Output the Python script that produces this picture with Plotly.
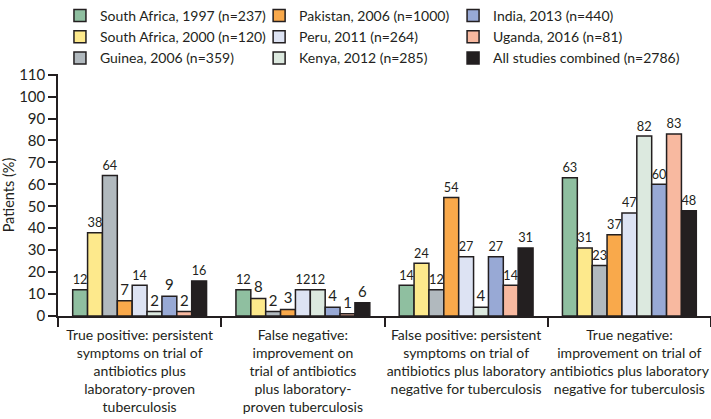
import plotly.graph_objects as go

categories = [
    "True positive: persistent<br>symptoms on trial of<br>antibiotics plus<br>laboratory-proven<br>tuberculosis",
    "False negative:<br>improvement on<br>trial of antibiotics<br>plus laboratory-<br>proven tuberculosis",
    "False positive: persistent<br>symptoms on trial of<br>antibiotics plus laboratory<br>negative for tuberculosis",
    "True negative:<br>improvement on trial of<br>antibiotics plus laboratory<br>negative for tuberculosis",
]

series_names = [
    "South Africa, 1997 (n=237)",
    "South Africa, 2000 (n=120)",
    "Guinea, 2006 (n=359)",
    "Pakistan, 2006 (n=1000)",
    "Peru, 2011 (n=264)",
    "Kenya, 2012 (n=285)",
    "India, 2013 (n=440)",
    "Uganda, 2016 (n=81)",
    "All studies combined (n=2786)",
]

south_africa_1997 = [12, 12, 14, 63]
south_africa_2000 = [38, 8, 24, 31]
guinea_2006 = [64, 2, 12, 23]
pakistan_2006 = [7, 3, 54, 37]
peru_2011 = [14, 12, 27, 47]
kenya_2012 = [2, 12, 4, 82]
india_2013 = [9, 4, 27, 60]
uganda_2016 = [2, 1, 14, 83]
all_studies = [16, 6, 31, 48]

series_values = [south_africa_1997, south_africa_2000, guinea_2006, pakistan_2006,
                 peru_2011, kenya_2012, india_2013, uganda_2016, all_studies]

colors = ["#8fbfa0", "#fde98c", "#b1b9be", "#f9a94b", "#dde3f3",
          "#dce9df", "#98a9d5", "#f8b9a0", "#231f20"]

# three legend columns, filled top to bottom
legend_ids = ["legend", "legend", "legend", "legend2", "legend2", "legend2",
              "legend3", "legend3", "legend3"]

ink = "#231f20"
font_main = "Lato, sans-serif"

fig = go.Figure()
for name, vals, col, lg in zip(series_names, series_values, colors, legend_ids):
    fig.add_trace(go.Bar(
        name=name,
        x=categories,
        y=vals,
        marker=dict(color=col, line=dict(color=ink, width=1.5)),
        text=vals,
        textposition="outside",
        textfont=dict(size=15, color=ink, family=font_main),
        cliponaxis=False,
        legend=lg,
    ))

legend_style = dict(
    font=dict(size=14, color=ink, family=font_main),
    bgcolor="rgba(0,0,0,0)",
    yref="container",
    yanchor="top",
    y=1.017,
    xanchor="left",
    tracegroupgap=0,
)

fig.update_layout(
    width=711,
    height=419,
    barmode="group",
    bargap=0.18,
    bargroupgap=0,
    plot_bgcolor="white",
    paper_bgcolor="white",
    margin=dict(l=58, r=0, t=5, b=103),
    font=dict(family=font_main, color=ink, size=14),
    legend=dict(x=0.003, **legend_style),
    legend2=dict(x=0.308, **legend_style),
    legend3=dict(x=0.605, **legend_style),
    xaxis=dict(
        automargin=False,
        tickangle=0,
        showline=True,
        linecolor=ink,
        linewidth=1.5,
        ticks="outside",
        tickson="boundaries",
        ticklen=9,
        tickwidth=1.5,
        tickcolor=ink,
        ticklabelstandoff=5,
        tickfont=dict(family=font_main, size=14, color=ink),
    ),
    yaxis=dict(
        automargin=False,
        range=[0, 110.3],
        tickvals=list(range(0, 111, 10)),
        showgrid=False,
        zeroline=False,
        showline=True,
        linecolor=ink,
        linewidth=1.5,
        ticks="outside",
        ticklen=8,
        tickwidth=1.5,
        tickcolor=ink,
        tickfont=dict(size=15, color=ink),
        title=dict(text="Patients (%)", font=dict(size=14.5), standoff=2),
    ),
)

fig.write_html("out.html", post_script="document.body.style.margin='0';",
               config={"displayModeBar": False})
